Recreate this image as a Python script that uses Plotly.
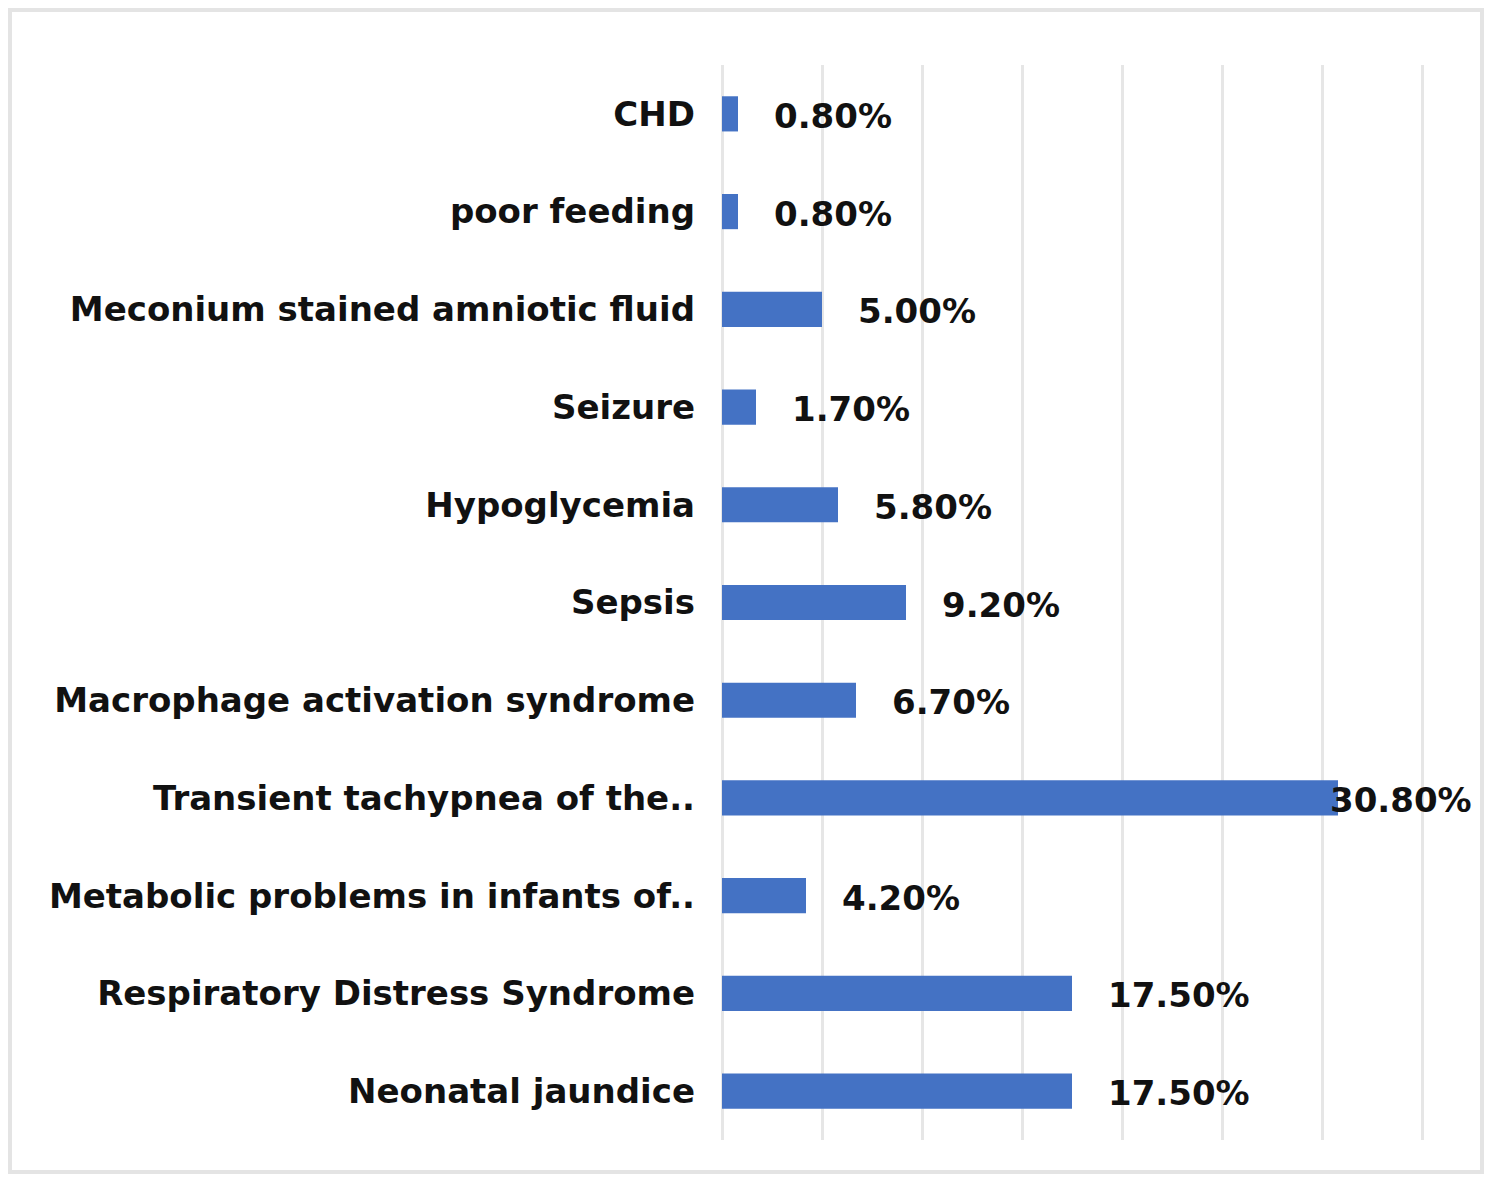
import plotly.graph_objects as go

categories = [
    "Neonatal jaundice",
    "Respiratory Distress Syndrome",
    "Metabolic problems in infants of..",
    "Transient tachypnea of the..",
    "Macrophage activation syndrome",
    "Sepsis",
    "Hypoglycemia",
    "Seizure",
    "Meconium stained amniotic fluid",
    "poor feeding",
    "CHD",
]
values = [17.5, 17.5, 4.2, 30.8, 6.7, 9.2, 5.8, 1.7, 5.0, 0.8, 0.8]
labels = [f"{v:.2f}%" for v in values]

# page body has an 8px margin, so figure coords = screen coords - 8
OFF = 8
W, H = 1504, 1180
L, T = 722 - OFF, 65 - OFF
XMAX = 35.5
pw = int(XMAX * 20)
R = W - L - pw
ph = 1075
B = H - T - ph

FONT = "DejaVu Sans"
FS = 34

fig = go.Figure()
fig.add_trace(go.Bar(
    y=categories, x=values, orientation="h",
    marker=dict(color="#4472C4", line=dict(width=0)),
    width=0.36, hoverinfo="skip",
))

for c, v, t in zip(categories, values, labels):
    shift = -10 if v > 28 else 34
    fig.add_annotation(x=v, y=c, text=t, showarrow=False, xanchor="left",
                       xshift=shift, yshift=-2,
                       font=dict(family=FONT, size=FS, color="#111111", weight="bold"))

def px(x):
    return (x - OFF - L) / pw

def py(y):
    return (T + ph - (y - OFF)) / ph

fig.add_shape(type="rect", xref="paper", yref="paper",
              x0=px(10), x1=px(1482), y0=py(1172), y1=py(10),
              line=dict(color="#e4e4e4", width=4), layer="below")

fig.update_layout(
    width=W, height=H,
    margin=dict(l=L, r=R, t=T, b=B),
    plot_bgcolor="white", paper_bgcolor="white",
    showlegend=False,
    xaxis=dict(range=[0, XMAX], dtick=5, showticklabels=False, showgrid=True,
               gridcolor="#e6e6e6", gridwidth=3, zeroline=True, zerolinecolor="#e6e6e6",
               zerolinewidth=3, showline=False, fixedrange=True),
    yaxis=dict(categoryorder="array", categoryarray=categories, range=[-0.5, 10.5],
               showgrid=False, showline=False, ticks="", ticklabelstandoff=26,
               tickfont=dict(family=FONT, size=FS, color="#111111", weight="bold")),
)

fig.write_html("out.html")
